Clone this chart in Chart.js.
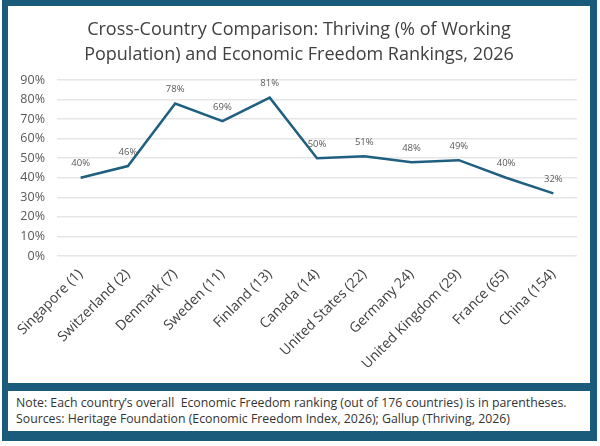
<!DOCTYPE html>
<html>
<head>
<meta charset="utf-8">
<script src="https://cdn.jsdelivr.net/npm/chart.js@4"></script>
<style>
  html, body { margin:0; padding:0; background:#ffffff; }
  #frame { position:absolute; left:2px; top:0px; width:595px; height:441px; background:#1a5a7b; }
  #panel { position:absolute; left:8px; top:6px; width:582px; height:377px; background:#ffffff; }
  #note { position:absolute; left:8px; top:391px; width:582px; height:40px; background:#ffffff;
          font-family:"Open Sans", "Liberation Sans", sans-serif; font-size:12.3px; color:#333333; line-height:16px; }
  #note div { padding-left:8px; white-space:nowrap; }
  canvas { display:block; }
</style>
</head>
<body>
<div id="frame"></div>
<div id="panel"><canvas id="c" width="582" height="377"></canvas></div>
<div id="note">
  <div style="padding-top:4px">Note: Each country’s overall&nbsp; Economic Freedom ranking (out of 176 countries) is in parentheses.</div>
  <div>Sources: Heritage Foundation (Economic Freedom Index, 2026); Gallup (Thriving, 2026)</div>
</div>
<script>
const countries = ["Singapore (1)", "Switzerland (2)", "Denmark (7)", "Sweden (11)", "Finland (13)", "Canada (14)",
                   "United States (22)", "Germany 24)", "United Kingdom (29)", "France (65)", "China (154)"];
const thriving = [40, 46, 78, 69, 81, 50, 51, 48, 49, 40, 32];
const yTicks = [0, 10, 20, 30, 40, 50, 60, 70, 80, 90];
const titleLines = ["Cross-Country Comparison: Thriving (% of Working", "Population) and Economic Freedom Rankings, 2026"];

const FONT = '"Open Sans", "Liberation Sans", sans-serif';

const labelPlugin = {
  id: 'pointLabels',
  afterDatasetsDraw(chart) {
    const ctx = chart.ctx;
    const meta = chart.getDatasetMeta(0);
    ctx.save();
    ctx.font = '9.5px ' + FONT;
    ctx.fillStyle = '#595959';
    ctx.textAlign = 'center';
    ctx.textBaseline = 'middle';
    meta.data.forEach((pt, i) => {
      ctx.fillText(thriving[i] + '%', pt.x, pt.y - 14);
    });
    ctx.restore();
  }
};

new Chart(document.getElementById('c'), {
  type: 'line',
  data: {
    labels: countries,
    datasets: [{
      data: thriving,
      borderColor: '#1f5f80',
      borderWidth: 2.5,
      pointRadius: 0,
      tension: 0,
      fill: false
    }]
  },
  options: {
    responsive: false,
    animation: false,
    layout: { padding: { left: 0, right: 0, top: 0, bottom: 0 } },
    plugins: {
      legend: { display: false },
      tooltip: { enabled: false },
      title: {
        display: true,
        text: titleLines,
        color: '#404040',
        font: { family: FONT, size: 18, weight: 'normal', lineHeight: 1.39 },
        padding: { top: 11, bottom: 13 }
      }
    },
    scales: {
      x: {
        type: 'category',
        offset: true,
        grid: { display: false, drawTicks: false },
        border: { display: false },
        ticks: {
          color: '#404040',
          font: { family: FONT, size: 14 },
          maxRotation: 45, minRotation: 45,
          padding: 10,
          autoSkip: false
        },
        afterFit(s) { s.height = 127; s.paddingLeft = 0; s.paddingRight = 13; }
      },
      y: {
        min: 0, max: 90,
        afterBuildTicks(s) { s.ticks = yTicks.map(v => ({ value: v })); },
        grid: { color: '#e6e6e6', lineWidth: 1.5, drawTicks: false },
        border: { display: false },
        ticks: {
          color: '#595959',
          font: { family: FONT, size: 12.5 },
          padding: 12,
          callback: v => v + '%'
        },
        afterFit(s) { s.width = 49; }
      }
    }
  },
  plugins: [labelPlugin]
});
</script>
</body>
</html>
